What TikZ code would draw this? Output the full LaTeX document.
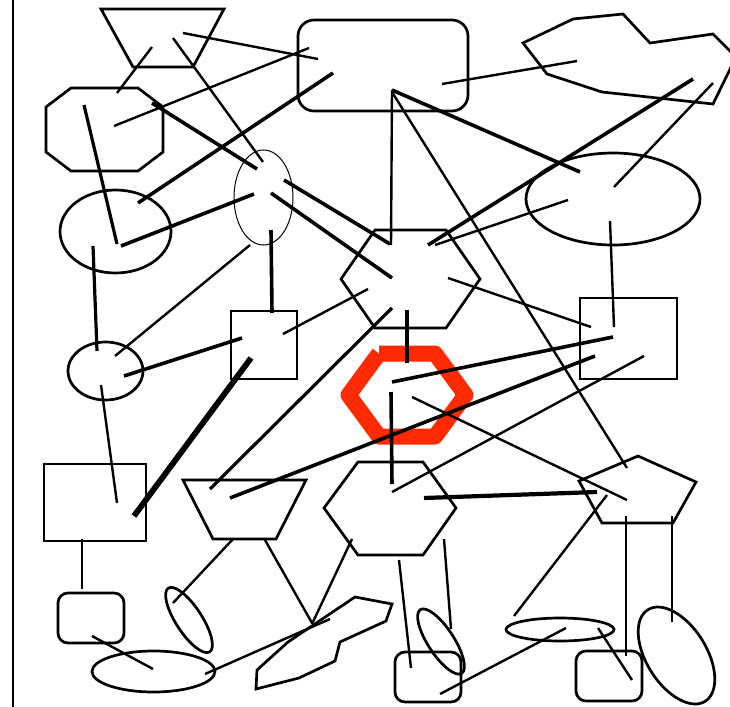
\documentclass[tikz,border=0pt]{standalone}
\definecolor{hexred}{RGB}{255,42,0}
\begin{document}
\begin{tikzpicture}[x=1pt,y=-1pt,
  outline/.style={draw=black,line width=2.7pt},
  thinoutline/.style={draw=black,line width=1pt},
  link/.style={draw=black,line width=2.4pt},
  thicklink/.style={draw=black,line width=3.6pt},
  heavylink/.style={draw=black,line width=5.8pt},
  redhex/.style={draw=hexred,line width=16pt,line join=round}]
\useasboundingbox (0,0) rectangle (730,706);
\begin{scope}
\clip (0,0) rectangle (730,706);
% red hexagon (below the lines)
\draw[redhex] (379,353.5) -- (435,353.5) -- (465.5,395) -- (435,436.5) -- (379,436.5) -- (348.5,395) -- (379,353.5);
% frame line
\draw[outline] (13,-5) -- (13,711);
% shapes
\draw[outline] (101,9) -- (224,9) -- (193,67) -- (133,67) -- cycle;
\draw[outline,rounded corners=16pt] (298,20) rectangle (468,111);
\draw[outline] (523,43) -- (573,19) -- (623,14) -- (650,43) -- (713,34) -- (736,57) -- (713,104) -- (602,92) -- (547,74) -- cycle;
\draw[outline] (71,88) -- (138,88) -- (163,107) -- (163,152) -- (138,171) -- (71,171) -- (46,152) -- (46,107) -- cycle;
\draw[thinoutline] (263.5,197.5) ellipse [x radius=29.5pt, y radius=47.5pt];
\draw[outline] (115.5,231.5) ellipse [x radius=55.5pt, y radius=41.5pt];
\draw[outline] (613,199) ellipse [x radius=87pt, y radius=46pt];
\draw[outline] (375,230) -- (446,230) -- (480,279) -- (446,328) -- (375,328) -- (341,279) -- cycle;
\draw[outline] (231,311) rectangle (297,379);
\draw[outline] (105.5,371) ellipse [x radius=37.5pt, y radius=29pt];
\draw[outline] (580,298) rectangle (677,379);
\draw[outline] (44,464) rectangle (146,541);
\draw[outline] (183,480) -- (306,480) -- (276,539) -- (213,539) -- cycle;
\draw[outline] (358,462) -- (423,462) -- (456,508) -- (423,555) -- (358,555) -- (324,508) -- cycle;
\draw[outline] (638,456) -- (696,482) -- (673,523) -- (602,523) -- (579,481) -- cycle;
\draw[outline,rounded corners=10pt] (58,593) rectangle (124,643);
\draw[outline,shift={(189,620)},rotate=-57] (0,0) ellipse [x radius=38pt, y radius=13pt];
\draw[outline] (153.5,671.5) ellipse [x radius=61.5pt, y radius=20.5pt];
\draw[outline] (355,597) -- (392,604) -- (386,621) -- (340,642) -- (335,661) -- (299,678) -- (256,689) -- (257,670) -- (288,642) -- cycle;
\draw[outline,shift={(441,641.5)},rotate=-57] (0,0) ellipse [x radius=38pt, y radius=13pt];
\draw[outline,rounded corners=10pt] (395,652) rectangle (461,702);
\draw[outline] (560,629.5) ellipse [x radius=54pt, y radius=11.5pt];
\draw[outline,rounded corners=10pt] (576,651) rectangle (642,701);
\draw[outline,shift={(676.5,655.5)},rotate=-58] (0,0) ellipse [x radius=54pt, y radius=30pt];
% thin connectors
\draw[link] (152,47) -- (117,93);
\draw[link] (173,38) -- (263,162);
\draw[link] (183,33) -- (318,59);
\draw[link] (309,48) -- (114,126);
\draw[link] (442,84) -- (577,61);
\draw[link] (713,83) -- (614,187);
\draw[link] (568,200) -- (435,245);
\draw[link] (610,221) -- (614,327);
\draw[link] (392,90) -- (391,245);
\draw[link] (392,92) -- (627,468);
\draw[link] (250,245) -- (115,356);
\draw[link] (283,334) -- (368,289);
\draw[link] (101,385) -- (117,503);
\draw[link] (448,278) -- (591,327);
\draw[link] (644,356) -- (392,492);
\draw[link] (412,397) -- (627,500);
\draw[link] (352,539) -- (312,624);
\draw[link] (399,560) -- (411,668);
\draw[link] (444,539) -- (451,629);
\draw[link] (82,539) -- (82,589);
\draw[link] (92,636) -- (153,669);
\draw[link] (233,539) -- (173,603);
\draw[link] (265,540) -- (312,623);
\draw[link] (205,674) -- (330,619);
\draw[link] (440,694) -- (566,628);
\draw[link] (514,616) -- (607,495);
\draw[link] (598,628) -- (632,680);
\draw[link] (626,516) -- (626,656);
\draw[link] (672,516) -- (672,622);
% thick connectors
\draw[thicklink] (333,73) -- (138,203);
\draw[thicklink] (152,103) -- (257,169);
\draw[thicklink,line width=3.2pt] (84,105) -- (117,244);
\draw[thicklink] (254,194) -- (121,246);
\draw[thicklink] (284,180) -- (390,244);
\draw[thicklink] (271,193) -- (392,278);
\draw[thicklink] (392,90) -- (580,172);
\draw[thicklink] (693,79) -- (428,245);
\draw[thicklink,line width=3.2pt] (93,246) -- (97,351);
\draw[thicklink] (271,230) -- (272,313);
\draw[thicklink] (124,376) -- (242,338);
\draw[thicklink,line width=3.2pt] (392,308) -- (210,489);
\draw[thicklink] (595,356) -- (230,498);
\draw[thicklink] (613,337) -- (392,382);
\draw[thicklink] (407,310) -- (407,363);
\draw[thicklink] (391,392) -- (392,484);
\draw[thicklink,line width=4.2pt] (424,498) -- (597,492);
\draw[heavylink] (251,358) -- (134,516);
\end{scope}
\end{tikzpicture}
\end{document}
